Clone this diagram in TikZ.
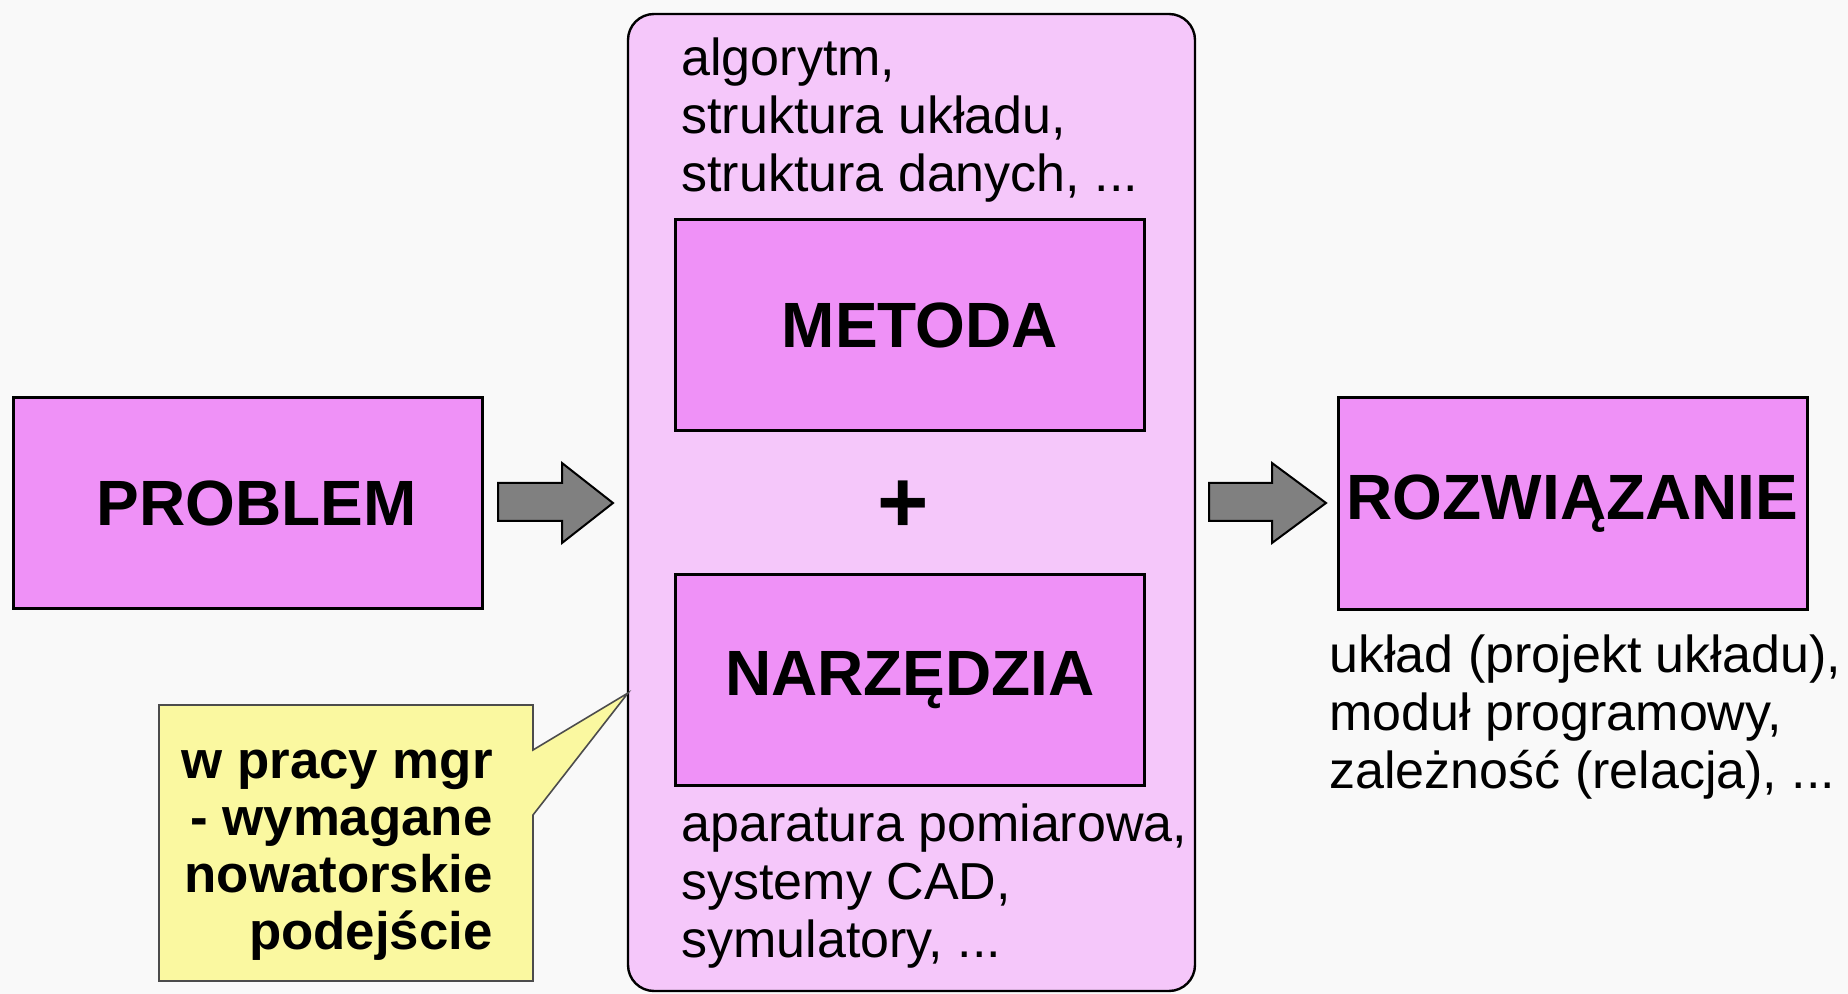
\documentclass[tikz,border=0pt]{standalone}
\usepackage{fontspec}
\setmainfont{Liberation Sans}
\usetikzlibrary{positioning}
\definecolor{bgcol}{RGB}{249,249,249}
\definecolor{lightpink}{RGB}{245,199,250}
\definecolor{boxpink}{RGB}{239,145,247}
\definecolor{noteyellow}{RGB}{250,248,160}
\definecolor{arrowgray}{RGB}{128,128,128}
\tikzset{
  box/.style={draw, line width=1.5pt, fill=boxpink, minimum width=234.5pt, minimum height=105.5pt, inner sep=0pt, font=\fontsize{32}{36}\selectfont\bfseries},
  list/.style={anchor=north west, align=left, inner sep=0pt, font=\fontsize{26}{29}\selectfont},
  blockarrow/.style={draw, line width=1pt, fill=arrowgray, line join=miter},
}

\begin{document}
\begin{tikzpicture}[x=0.5pt,y=-0.5pt]
\useasboundingbox (0,0) rectangle (1848,994);
\fill[bgcol] (0,0) rectangle (1848,994);
\node[draw, line width=1.2pt, fill=lightpink, rounded corners=13pt, minimum width=283.5pt, minimum height=488.5pt, inner sep=0pt] (core) at (911.5,502.5) {};
\node[box] (problem) at (247.5,503) {\hspace*{9pt}PROBLEM};
\node[box] (metoda) at (910,325) {\hspace*{10pt}METODA};
\node[box] (narzedzia) at (910,680) {NARZĘDZIA};
\node[box] (rozw) at (1572.5,503.5) {ROZWIĄZANIE};
\node[inner sep=0pt, font=\fontsize{44}{44}\selectfont\bfseries] (plus) at (903,507) {+};
\node[list] (top) at (681,37) {algorytm,\\struktura układu,\\struktura danych, ...};
\node[list] (bottom) at (681,803) {aparatura pomiarowa,\\systemy CAD,\\symulatory, ...};
\node[list] (result) at (1329,634) {układ (projekt układu),\\moduł programowy,\\zależność (relacja), ...};
% callout
\coordinate (tip) at (628,693);
\path[draw=black!70, line width=0.8pt, fill=noteyellow] (159,705) -- (533,705) -- (533,750) -- (tip) -- (533,815) -- (533,981) -- (159,981) -- cycle;
\node[anchor=north east, align=right, inner sep=0pt, font=\fontsize{26.4}{28.5}\selectfont\bfseries] (note) at (493,750) {w pracy mgr\\- wymagane\\nowatorskie\\podejście};
% arrows
\path[blockarrow] (498,483) -- (562,483) -- (562,463) -- (613,503) -- (562,543) -- (562,521) -- (498,521) -- cycle;
\path[blockarrow] (1209,483) -- (1272,483) -- (1272,463) -- (1326,503) -- (1272,543) -- (1272,521) -- (1209,521) -- cycle;
\end{tikzpicture}
\end{document}
